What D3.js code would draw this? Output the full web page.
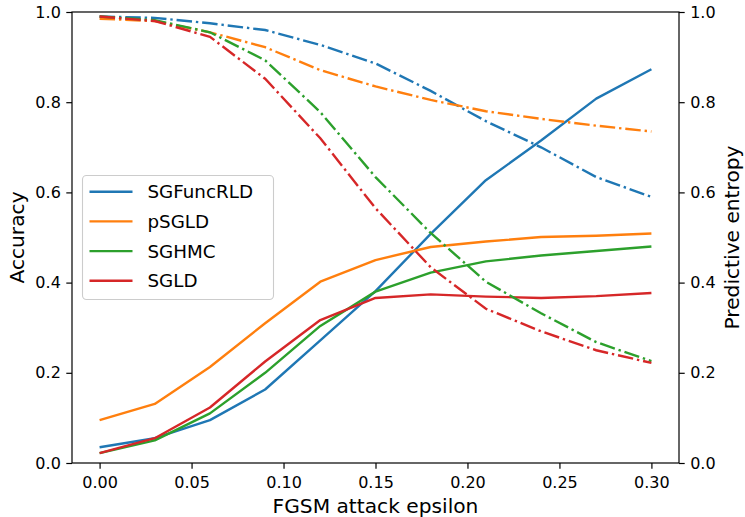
<!DOCTYPE html>
<html><head><meta charset="utf-8">
<script src="https://cdn.jsdelivr.net/npm/d3@7"></script>
<style>body{margin:0;background:#fff}svg{display:block}text{font-family:"DejaVu Sans",sans-serif;fill:#000}</style>
</head><body><svg id="c" width="745" height="517"></svg>
<script>
const epsilons = [0, 0.03, 0.06, 0.09, 0.12, 0.15, 0.18, 0.21, 0.24, 0.27, 0.30];
const methods = ["SGFuncRLD", "pSGLD", "SGHMC", "SGLD"];
const colors = ["#1f77b4", "#ff7f0e", "#2ca02c", "#d62728"];
const accuracy = {
  SGFuncRLD: [0.035, 0.055, 0.095, 0.163, 0.272, 0.381, 0.508, 0.627, 0.715, 0.808, 0.873],
  pSGLD:     [0.095, 0.131, 0.213, 0.310, 0.402, 0.450, 0.479, 0.491, 0.501, 0.504, 0.509],
  SGHMC:     [0.022, 0.050, 0.110, 0.200, 0.304, 0.380, 0.422, 0.447, 0.460, 0.470, 0.480],
  SGLD:      [0.022, 0.055, 0.123, 0.225, 0.317, 0.366, 0.374, 0.369, 0.366, 0.370, 0.377]
};
const entropy = {
  SGFuncRLD: [0.990, 0.987, 0.975, 0.960, 0.927, 0.886, 0.825, 0.758, 0.700, 0.634, 0.590],
  pSGLD:     [0.985, 0.980, 0.955, 0.922, 0.871, 0.835, 0.805, 0.780, 0.763, 0.748, 0.735],
  SGHMC:     [0.990, 0.982, 0.955, 0.893, 0.778, 0.634, 0.510, 0.402, 0.332, 0.268, 0.226],
  SGLD:      [0.990, 0.980, 0.945, 0.852, 0.720, 0.565, 0.434, 0.342, 0.292, 0.250, 0.222]
};
const xTicks = [0, 0.05, 0.10, 0.15, 0.20, 0.25, 0.30];
const yTicks = [0, 0.2, 0.4, 0.6, 0.8, 1.0];

const svg = d3.select("#c");
const L = 72, R = 679, T = 12, B = 463;
const x = d3.scaleLinear().domain([-0.015, 0.315]).range([L, R]);
const y = d3.scaleLinear().domain([0, 1]).range([B, T]);
const y2 = d3.scaleLinear().domain([0, 1]).range([B, T]);

const line = (ys, sc) => d3.line().x((d, i) => x(epsilons[i])).y(d => sc(d))(ys);
const LW = 2.4;

const g = svg.append("g");
methods.forEach((m, i) => {
  g.append("path").attr("d", line(accuracy[m], y)).attr("fill", "none")
    .attr("stroke", colors[i]).attr("stroke-width", LW).attr("stroke-linejoin", "round");
});
methods.forEach((m, i) => {
  g.append("path").attr("d", line(entropy[m], y2)).attr("fill", "none")
    .attr("stroke", colors[i]).attr("stroke-width", LW)
    .attr("stroke-dasharray", "15.5,3.9,2.4,3.9");
});

// axes
const fs = 16;
const ax = svg.append("g").attr("transform", `translate(0,${B})`)
  .call(d3.axisBottom(x).tickValues(xTicks).tickFormat(d3.format(".2f")).tickSize(5.7).tickPadding(8));
const ay = svg.append("g").attr("transform", `translate(${L},0)`)
  .call(d3.axisLeft(y).tickValues(yTicks).tickFormat(d3.format(".1f")).tickSize(5.7).tickPadding(5.5));
const ay2 = svg.append("g").attr("transform", `translate(${R},0)`)
  .call(d3.axisRight(y2).tickValues(yTicks).tickFormat(d3.format(".1f")).tickSize(5.7).tickPadding(5.5));
[ax, ay, ay2].forEach(a => {
  a.select(".domain").remove();
  a.selectAll("line").attr("stroke", "#000").attr("stroke-width", 1.2);
  a.selectAll("text").style("font-family", '"DejaVu Sans",sans-serif').style("font-size", fs + "px").attr("fill", "#000");
});
svg.append("rect").attr("x", L).attr("y", T).attr("width", R - L).attr("height", B - T)
  .attr("fill", "none").attr("stroke", "#000").attr("stroke-width", 1.2);

const lfs = "20.2px";
svg.append("text").attr("x", (L + R) / 2).attr("y", 512.5).attr("text-anchor", "middle")
  .style("font-size", lfs).text("FGSM attack epsilon");
svg.append("text").attr("transform", `translate(23.5,${(T + B) / 2}) rotate(-90)`).attr("text-anchor", "middle")
  .style("font-size", lfs).text("Accuracy");
svg.append("text").attr("transform", `translate(738.5,${(T + B) / 2}) rotate(-90)`).attr("text-anchor", "middle")
  .style("font-size", lfs).text("Predictive entropy");

// legend
const lg = svg.append("g");
lg.append("rect").attr("x", 82.5).attr("y", 175.5).attr("width", 191).attr("height", 124).attr("rx", 4)
  .attr("fill", "#fff").attr("fill-opacity", 0.8).attr("stroke", "#ccc").attr("stroke-width", 1.1);
methods.forEach((m, i) => {
  const yy = 191.7 + i * 29.7;
  lg.append("line").attr("x1", 89.5).attr("x2", 132.5).attr("y1", yy).attr("y2", yy)
    .attr("stroke", colors[i]).attr("stroke-width", LW);
  lg.append("text").attr("x", 147.5).attr("y", yy).attr("dy", "0.36em").style("font-size", "18.3px").text(m);
});
</script></body></html>
